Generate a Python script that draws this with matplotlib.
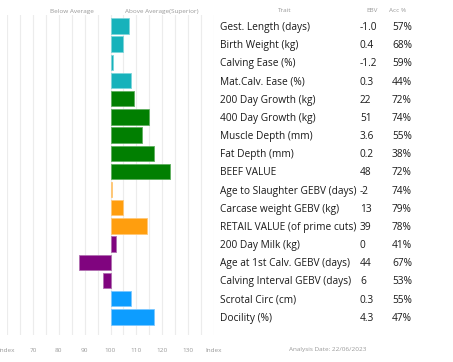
import matplotlib
matplotlib.use("Agg")
import matplotlib.pyplot as plt
import matplotlib.transforms as mtransforms

traits = ["Gest. Length (days)", "Birth Weight (kg)", "Calving Ease (%)", "Mat.Calv. Ease (%)",
          "200 Day Growth (kg)", "400 Day Growth (kg)", "Muscle Depth (mm)", "Fat Depth (mm)",
          "BEEF VALUE", "Age to Slaughter GEBV (days)", "Carcase weight GEBV (kg)",
          "RETAIL VALUE (of prime cuts)", "200 Day Milk (kg)", "Age at 1st Calv. GEBV (days)",
          "Calving Interval GEBV (days)", "Scrotal Circ (cm)", "Docility (%)"]
ebv = ["-1.0", "0.4", "-1.2", "0.3", "22", "51", "3.6", "0.2", "48", "-2", "13", "39",
       "0", "44", "6", "0.3", "4.3"]
acc = ["57%", "68%", "59%", "44%", "72%", "74%", "55%", "38%", "72%", "74%", "79%", "78%",
       "41%", "67%", "53%", "55%", "47%"]
index_vals = [107, 105, 101, 108, 109, 115, 112, 117, 123, 100.5, 105, 114, 102, 88, 97, 108, 117]
groups = ["teal"] * 4 + ["green"] * 5 + ["orange"] * 3 + ["purple"] * 3 + ["blue"] * 2
tick_vals = [60, 70, 80, 90, 100, 110, 120, 130, 140]
tick_labels = ["Index", "70", "80", "90", "100", "110", "120", "130", "Index"]

palette = {"teal": "#17B2BB", "green": "#017F01", "orange": "#FF9E0E",
           "purple": "#80047F", "blue": "#0D9DFF"}
edge = {"teal": "#7FD6DB", "green": "#5FAF5F", "orange": "#FFC878",
        "purple": "#B070B0", "blue": "#7CC8FF"}

plt.rcParams["font.family"] = ["Open Sans", "DejaVu Sans"]
W, H = 453, 362
fig = plt.figure(figsize=(W / 100, H / 100), dpi=100)
fig.patch.set_facecolor("white")

ax = fig.add_axes([7 / W, 1 - 335 / H, 207 / W, 320 / H])
ax.set_xlim(60, 140)
ax.set_ylim(17.0, -0.605)
for s in ax.spines.values():
    s.set_visible(False)
ax.set_xticks([])
ax.set_yticks([])
for v in range(60, 141, 5):
    ax.axvline(v, color="#ececec" if v != 140 else "#dcdcdc", lw=0.8, zorder=0)

ys = list(range(len(traits)))
for y, val, g in zip(ys, index_vals, groups):
    ax.barh(y, val - 100, left=100, height=0.85, color=palette[g],
            edgecolor=edge[g], linewidth=0.6, zorder=2)

# fit trait font size so the longest label spans ~137 px
renderer = fig.canvas.get_renderer()
probe = fig.text(0, 0, "Age to Slaughter GEBV (days)", fontsize=10)
wpx = probe.get_window_extent(renderer).width
probe.remove()
fs = 10 * 137 / wpx

trans_tick = mtransforms.blended_transform_factory(ax.transData, fig.transFigure)
for v, lab in zip(tick_vals, tick_labels):
    ax.text(v, 1 - 350 / H, lab, transform=trans_tick, ha="center", va="center",
            fontsize=4.6, color="#999999")

hdr = dict(ha="center", va="center", fontsize=4.6, color="#999999")
fig.text(72 / W, 1 - 11 / H, "Below Average", **hdr)
fig.text(162 / W, 1 - 11 / H, "Above Average(Superior)", **hdr)
fig.text(285 / W, 1 - 10 / H, "Trait", **hdr)
fig.text(372 / W, 1 - 10 / H, "EBV", **hdr)
fig.text(398 / W, 1 - 10 / H, "Acc %", **hdr)
fig.text(328 / W, 1 - 350 / H, "Analysis Date: 22/06/2023", **hdr)

trans_row = mtransforms.blended_transform_factory(fig.transFigure, ax.transData)
for y, t, e, a in zip(ys, traits, ebv, acc):
    for xp, s in ((220, t), (360, e), (392, a)):
        ax.text(xp / W, y, s, transform=trans_row, ha="left", va="center_baseline",
                fontsize=fs, color="#1a1a1a")

fig.savefig("out.png", dpi=100, facecolor="white")
